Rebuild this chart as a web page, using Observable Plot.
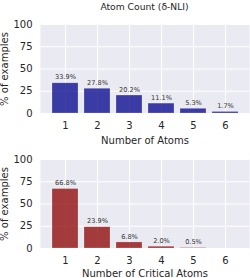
<!DOCTYPE html>
<html><head><meta charset="utf-8">
<script src="https://cdn.jsdelivr.net/npm/d3@7"></script>
<script src="https://cdn.jsdelivr.net/npm/@observablehq/plot@0.6"></script>
<style>
body{margin:0;background:#fff;font-family:"DejaVu Sans",sans-serif;}
#wrap{position:relative;width:250px;height:278px;overflow:hidden;}
#title{position:absolute;left:40px;width:209px;top:0;height:13px;line-height:13px;text-align:center;font-size:9.2px;color:#262626;}
.p{position:absolute;left:0;}
</style></head>
<body><div id="wrap"><div id="title">Atom Count (δ-NLI)</div></div>
<script>
const categories = [1, 2, 3, 4, 5, 6];
const atomPct = [33.9, 27.8, 20.2, 11.1, 5.3, 1.7];
const criticalCategories = [1, 2, 3, 4, 5];
const criticalPct = [66.8, 23.9, 6.8, 2.0, 0.5];
const yTicks = [0, 25, 50, 75, 100];

function panel(cats, vals, color, xLabel, top, labelOffset) {
  const data = cats.map((c, i) => ({c, v: vals[i]}));
  const p = Plot.plot({
    width: 250, height: 135,
    marginTop: 12, marginBottom: 34, marginLeft: 40, marginRight: 1,
    style: {fontFamily: "DejaVu Sans, sans-serif", fontSize: "10px", color: "#262626", background: "transparent"},
    x: {type: "band", domain: categories, paddingInner: 0.2, paddingOuter: 0.29},
    y: {domain: [0, 100]},
    marks: [
      Plot.frame({fill: "#EAEAF2", stroke: null}),
      Plot.gridX({stroke: "white", strokeOpacity: 1, strokeWidth: 1}),
      Plot.gridY(yTicks, {stroke: "white", strokeOpacity: 1, strokeWidth: 1}),
      Plot.barY(data, {x: "c", y: "v", fill: color, fillOpacity: 0.75, stroke: "white", strokeOpacity: 0.35, strokeWidth: 0.6}),
      Plot.text(data, {x: "c", y: "v", text: d => d.v.toFixed(1) + "%", dy: -6, fontSize: 6.6, fill: "#333"}),
      Plot.axisX({tickSize: 0, tickPadding: 8, fontSize: 10, label: xLabel, labelAnchor: "center", labelOffset, labelArrow: "none"}),
      Plot.axisY(yTicks, {tickSize: 0, tickPadding: 8, fontSize: 10, label: "% of examples", labelAnchor: "center", labelOffset: 40, labelArrow: "none"})
    ]
  });
  p.classList.add("p");
  p.style.top = top + "px";
  document.getElementById("wrap").appendChild(p);
}
panel(categories, atomPct, "#00008B", "Number of Atoms", 12, 30);
panel(criticalCategories, criticalPct, "#8B0000", "Number of Critical Atoms", 147, 28);
</script></body></html>
